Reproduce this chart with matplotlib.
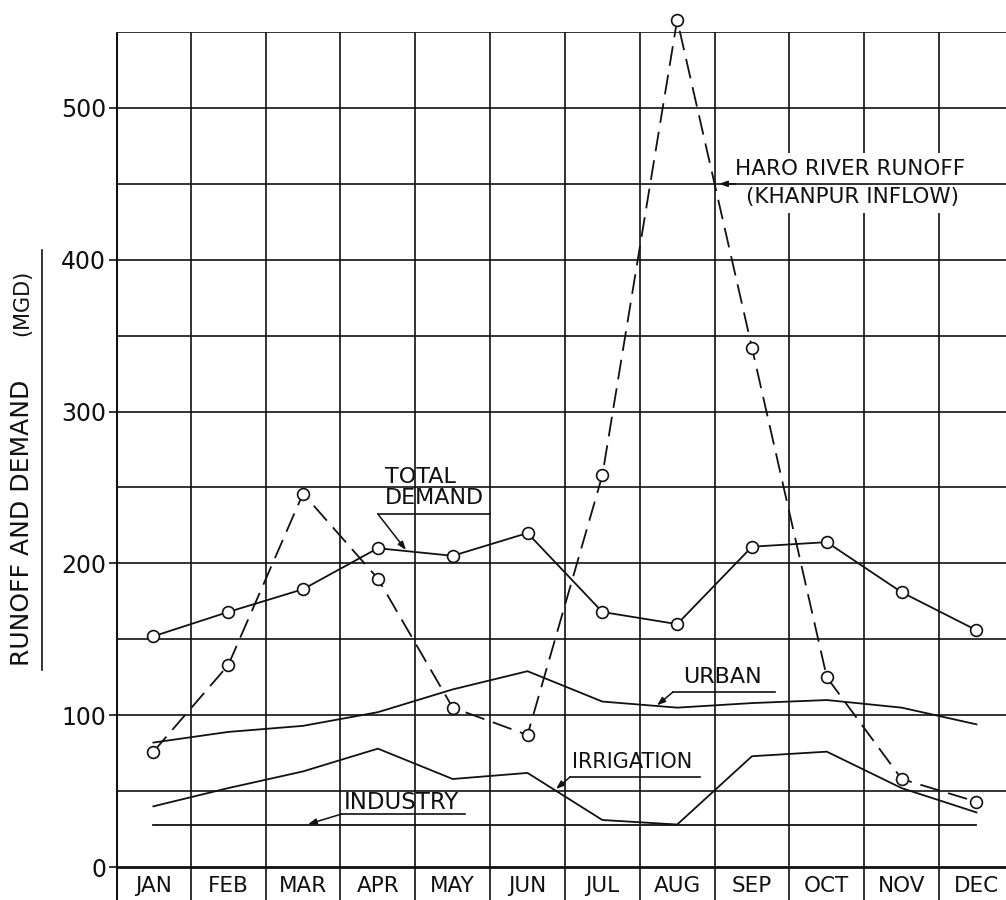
import matplotlib
matplotlib.use("Agg")
import matplotlib.pyplot as plt
from matplotlib.lines import Line2D

plt.rcParams['font.family'] = ['DejaVu Sans']

months = ["JAN", "FEB", "MAR", "APR", "MAY", "JUN", "JUL", "AUG", "SEP", "OCT", "NOV", "DEC"]
runoff = [76, 133, 246, 190, 105, 87, 258, 558, 342, 125, 58, 43]
total_demand = [152, 168, 183, 210, 205, 220, 168, 160, 211, 214, 181, 156]
urban = [82, 89, 93, 102, 117, 129, 109, 105, 108, 110, 105, 94]
irrigation = [40, 52, 63, 78, 58, 62, 31, 28, 73, 76, 52, 36]
industry = [28] * 12
ytick_vals = [0, 100, 200, 300, 400, 500]

W, H = 1006, 900
fig = plt.figure(figsize=(W / 100, H / 100), dpi=100)
fig.patch.set_facecolor("white")
ax = fig.add_axes([116 / W, 0, 890 / W, 868 / H])
ax.set_xlim(0.5, 12.395)
ax.set_ylim(-21.7, 550)
for s in ax.spines.values():
    s.set_visible(False)

x = list(range(1, 13))
ink = "#111111"

# grid
for yv in range(0, 551, 50):
    lw = 2.0 if yv == 0 else 1.2
    ax.hlines(yv, 0.5, 12.395, color=ink, lw=lw, zorder=3 if yv == 450 else 1)
ax.vlines([b + 0.5 for b in range(1, 12)], -21.7, 550, color=ink, lw=1.2, zorder=1)
ax.vlines(0.5, -21.7, 550, color=ink, lw=2.2, zorder=1)

# y ticks
ax.set_xticks([])
ax.set_yticks(ytick_vals)
ax.set_yticklabels([str(v) for v in ytick_vals], fontsize=17, color=ink)
ax.tick_params(axis="y", direction="out", length=5, width=1.2, pad=2, color=ink)

# month labels
for xi, m in zip(x, months):
    ax.text(xi, -12.5, m, ha="center", va="center", fontsize=15.5, color=ink)

# data
ax.plot(x, runoff, color=ink, lw=1.3, dashes=(11, 5), marker="o", ms=8.5,
        mfc="white", mec=ink, mew=1.2, zorder=5, clip_on=False)
ax.plot(x, total_demand, color=ink, lw=1.3, marker="o", ms=8.5,
        mfc="white", mec=ink, mew=1.2, zorder=5)
ax.plot(x, urban, color=ink, lw=1.3, zorder=4)
ax.plot(x, irrigation, color=ink, lw=1.3, zorder=4)
ax.plot(x, industry, color=ink, lw=1.3, zorder=4)

arrow = dict(arrowstyle="-|>,head_length=0.5,head_width=0.18", color=ink, lw=1.1,
             shrinkA=0, shrinkB=0)

# TOTAL DEMAND
ax.text(4.09, 250, "TOTAL\nDEMAND", ha="left", va="center", fontsize=16,
        color=ink, linespacing=1.1, zorder=6)
ax.plot([4.0, 5.5], [232.5, 232.5], color=ink, lw=1.2, zorder=6)
ax.annotate("", xy=(4.376, 208.8), xytext=(4.0, 232.5), arrowprops=arrow, zorder=6)

# URBAN
ax.text(8.08, 125, "URBAN", ha="left", va="center", fontsize=16, color=ink, zorder=6)
ax.plot([7.944, 9.308], [115.3, 115.3], color=ink, lw=1.2, zorder=6)
ax.annotate("", xy=(7.73, 106.5), xytext=(7.944, 115.3), arrowprops=arrow, zorder=6)

# IRRIGATION
ax.text(6.6, 69, "IRRIGATION", ha="left", va="center", fontsize=15, color=ink, zorder=6)
ax.plot([6.568, 8.305], [59.3, 59.3], color=ink, lw=1.2, zorder=6)
ax.annotate("", xy=(6.38, 51.4), xytext=(6.568, 59.3), arrowprops=arrow, zorder=6)

# INDUSTRY
ax.text(3.54, 42.8, "INDUSTRY", ha="left", va="center", fontsize=16.5, color=ink, zorder=6)
ax.plot([3.52, 5.165], [35, 35], color=ink, lw=1.2, zorder=6)
ax.annotate("", xy=(3.066, 28.2), xytext=(3.52, 35), arrowprops=arrow, zorder=6)

# HARO RIVER RUNOFF
ax.text(8.773, 459.5, "HARO RIVER RUNOFF", ha="left", va="center", fontsize=15.5,
        color=ink, zorder=2,
        bbox=dict(boxstyle="square,pad=0.3", fc="white", ec="none"))
ax.text(8.92, 441.5, "(KHANPUR INFLOW)", ha="left", va="center", fontsize=15.5,
        color=ink, zorder=2,
        bbox=dict(boxstyle="square,pad=0.3", fc="white", ec="none"))
ax.annotate("", xy=(8.56, 450), xytext=(8.78, 450), arrowprops=arrow, zorder=6)

# y label
fig.text(22 / W, 1 - 523 / H, "RUNOFF AND DEMAND", rotation=90, ha="center",
         va="center", fontsize=18, color=ink)
fig.text(22 / W, 1 - 303 / H, "(MGD)", rotation=90, ha="center", va="center",
         fontsize=15, color=ink)
fig.add_artist(Line2D([42 / W, 42 / W], [1 - 250 / H, 1 - 670 / H],
                      transform=fig.transFigure, color=ink, lw=1.2))

fig.savefig("out.png", dpi=100, facecolor="white")
